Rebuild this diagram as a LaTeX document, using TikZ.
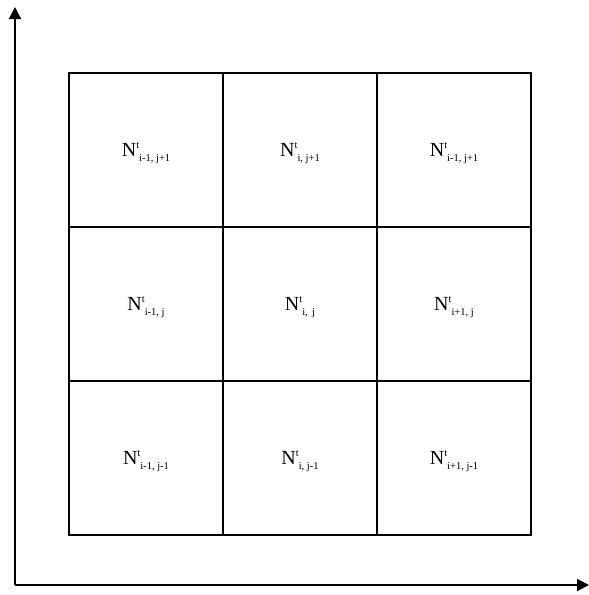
\documentclass[tikz,border=0pt]{standalone}
\usepackage{fontspec}
\setmainfont{Liberation Serif}
\usetikzlibrary{arrows.meta}
\newcommand{\lbl}[1]{\fontsize{20}{22}\selectfont N\raisebox{8pt}{\fontsize{10.5}{11}\selectfont t}\raisebox{-5.5pt}{\fontsize{10.5}{11}\selectfont #1}}
\begin{document}
\begin{tikzpicture}[x=1pt,y=-1pt,
  cell/.style={draw=black,line width=2pt,minimum width=154pt,minimum height=154pt,inner sep=0pt,anchor=center},
  lab/.style={anchor=center,inner sep=0pt},
  axis/.style={line width=2pt,-{Triangle[length=12pt,width=12pt]}}]
\useasboundingbox (0,0) rectangle (589,595);
\fill[white] (0,0) rectangle (589,595);
\coordinate (O) at (15,585);
\coordinate (Y) at (15,7);
\coordinate (X) at (589,585);
\draw[axis] (O) -- (Y);
\draw[axis] (O) -- (X);
\node[cell] (c11) at (146,150) {};
\node[cell] (c12) at (300,150) {};
\node[cell] (c13) at (454,150) {};
\node[cell] (c21) at (146,304) {};
\node[cell] (c22) at (300,304) {};
\node[cell] (c23) at (454,304) {};
\node[cell] (c31) at (146,458) {};
\node[cell] (c32) at (300,458) {};
\node[cell] (c33) at (454,458) {};
\node[lab] at ([yshift=-3pt]c11.center) {\lbl{i-1, j+1}};
\node[lab] at ([yshift=-3pt]c12.center) {\lbl{i, j+1}};
\node[lab] at ([yshift=-3pt]c13.center) {\lbl{i-1, j+1}};
\node[lab] at ([yshift=-3pt]c21.center) {\lbl{i-1, j}};
\node[lab] at ([yshift=-3pt]c22.center) {\lbl{i,\ \,j}};
\node[lab] at ([yshift=-3pt]c23.center) {\lbl{i+1, j}};
\node[lab] at ([yshift=-3pt]c31.center) {\lbl{i-1, j-1}};
\node[lab] at ([yshift=-3pt]c32.center) {\lbl{i, j-1}};
\node[lab] at ([yshift=-3pt]c33.center) {\lbl{i+1, j-1}};
\end{tikzpicture}
\end{document}
